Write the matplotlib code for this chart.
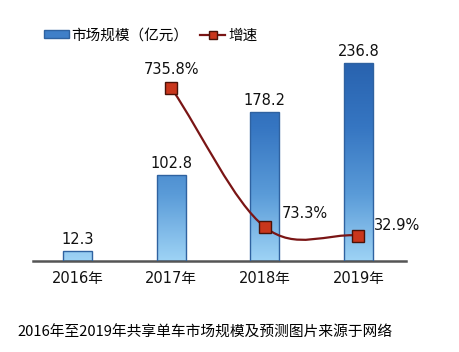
import matplotlib
matplotlib.use("Agg")
import matplotlib.pyplot as plt
import numpy as np
from matplotlib.colors import LinearSegmentedColormap
from matplotlib.path import Path
from matplotlib.patches import PathPatch, Patch
from matplotlib.lines import Line2D

plt.rcParams["font.family"] = ["DejaVu Sans", "Noto Sans CJK SC"]

years = ["2016年", "2017年", "2018年", "2019年"]
market = [12.3, 102.8, 178.2, 236.8]
growth_years = [1, 2, 3]
growth = [735.8, 73.3, 32.9]
growth_labels = ["735.8%", "73.3%", "32.9%"]
caption = "2016年至2019年共享单车市场规模及预测图片来源于网络"

fig = plt.figure(figsize=(4.6, 3.52), dpi=100)
ax = fig.add_axes([33 / 460, 91 / 352, 373 / 460, 211 / 352])
ax2 = ax.twinx()

x = np.arange(len(years))
ax.set_xlim(-0.48, 3.51)
ax.set_ylim(0, 252.4)
ax2.set_ylim(-88.6, 917)

# bars with vertical gradient
cmap = LinearSegmentedColormap.from_list("bl", ["#9ed3f5", "#5a9bd8", "#3676c2", "#2862ae"])
grad = np.linspace(0, 1, 256).reshape(-1, 1)
bars = ax.bar(x, market, width=0.31, facecolor="none", edgecolor="#2f62a0", linewidth=1.0, zorder=3)
for b in bars:
    im = ax.imshow(grad, cmap=cmap, origin="lower", aspect="auto",
                   extent=(-0.48, 3.51, 0, 240), zorder=2)
    im.set_clip_path(b)
ax.set_xlim(-0.48, 3.51)
ax.set_ylim(0, 252.4)

for xi, v in zip(x, market):
    ax.annotate(f"{v}", (xi, v), xytext=(0, 3), textcoords="offset points",
                ha="center", va="bottom", fontsize=10.5, color="#111111")

# smooth growth curve (Catmull-Rom -> Bezier)
pts = np.column_stack([growth_years, growth]).astype(float)
n = len(pts)
tang = []
for i in range(n):
    if i == 0:
        tang.append(pts[1] - pts[0])
    elif i == n - 1:
        tang.append(pts[-1] - pts[-2])
    else:
        tang.append((pts[i + 1] - pts[i - 1]) / 2)
verts = [pts[0]]
codes = [Path.MOVETO]
for i in range(n - 1):
    verts += [pts[i] + tang[i] / 3, pts[i + 1] - tang[i + 1] / 3, pts[i + 1]]
    codes += [Path.CURVE4] * 3
ax2.add_patch(PathPatch(Path(verts, codes), facecolor="none", edgecolor="#7a1515",
                        linewidth=1.6, zorder=4))
ax2.plot(growth_years, growth, linestyle="none", marker="s", markersize=8.5,
         markerfacecolor="#c9361c", markeredgecolor="#4a1208", markeredgewidth=1.0, zorder=5)

offsets = [(0, 8), (12, 4), (11, 2)]
aligns = [("center", "bottom"), ("left", "bottom"), ("left", "bottom")]
for gx, gv, lab, off, al in zip(growth_years, growth, growth_labels, offsets, aligns):
    ax2.annotate(lab, (gx, gv), xytext=off, textcoords="offset points",
                 ha=al[0], va=al[1], fontsize=10.5, color="#111111")

for a in (ax, ax2):
    for s in ["top", "right", "left"]:
        a.spines[s].set_visible(False)
    a.set_yticks([])
ax2.spines["bottom"].set_visible(False)
ax.spines["bottom"].set_color("#555555")
ax.spines["bottom"].set_linewidth(1.8)
ax.set_xticks(x)
ax.set_xticklabels(years, fontsize=10.5, color="#111111")
ax.tick_params(axis="x", length=0, pad=7)

handles = [
    Patch(facecolor="#3f7fc8", edgecolor="#2f62a0", label="市场规模（亿元）"),
    Line2D([0], [0], color="#7a1515", linewidth=1.6, marker="s", markersize=6,
           markerfacecolor="#c9361c", markeredgecolor="#4a1208", label="增速"),
]
fig.legend(handles=handles, loc="center left", bbox_to_anchor=(44 / 460, 1 - 35 / 352),
           ncol=2, frameon=False, fontsize=10.5, handlelength=1.7, handleheight=0.5,
           handletextpad=0.2, columnspacing=0.8, borderaxespad=0, borderpad=0)

fig.text(17 / 460, 1 - 333 / 352, caption, fontsize=10.6, color="#000000",
         family=["Noto Sans CJK SC", "DejaVu Sans"], va="center", ha="left")

fig.savefig("out.png", dpi=100)
plt.close(fig)
